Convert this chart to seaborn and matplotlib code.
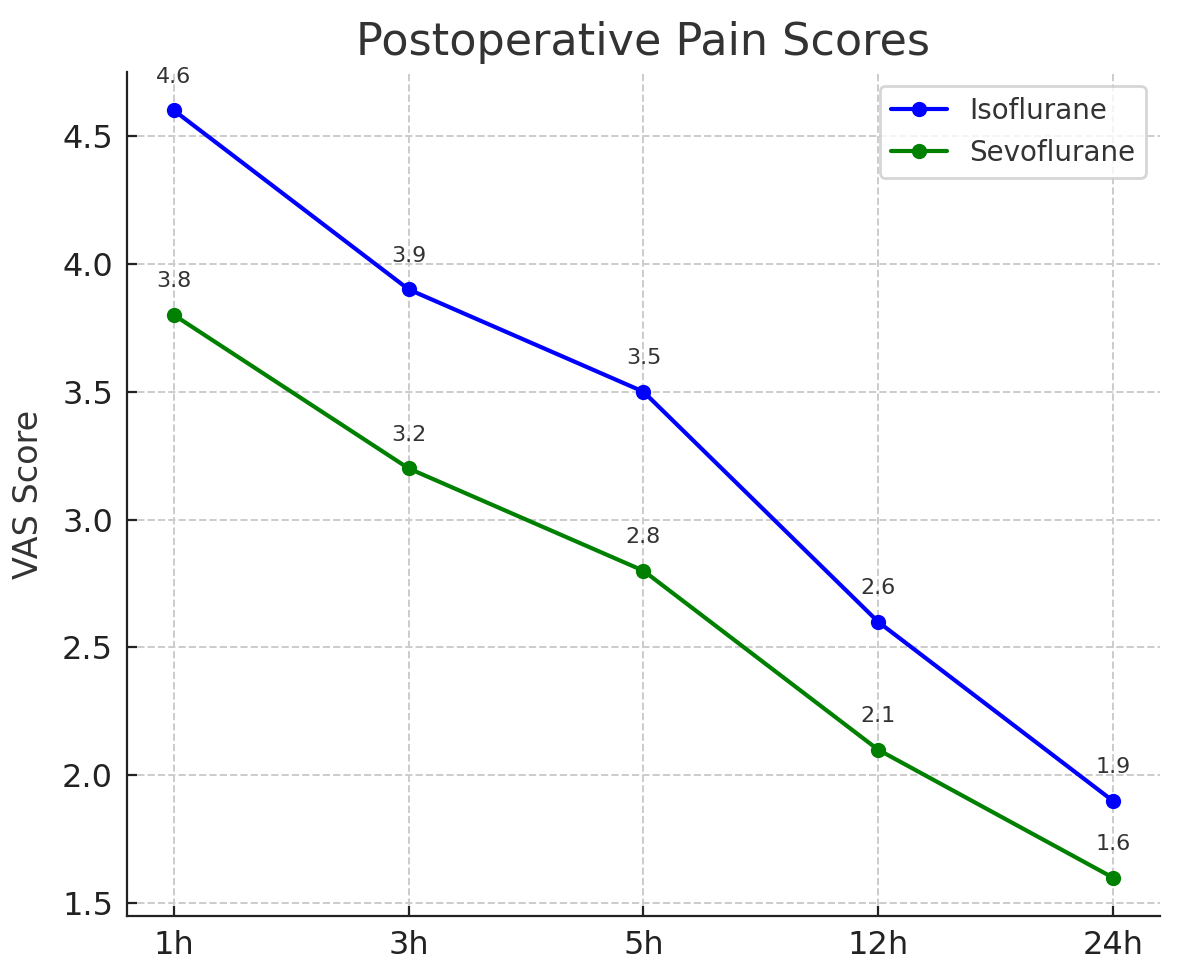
import matplotlib
matplotlib.use("Agg")
import matplotlib.pyplot as plt
import seaborn as sns
import pandas as pd

times = ["1h", "3h", "5h", "12h", "24h"]
isoflurane = [4.6, 3.9, 3.5, 2.6, 1.9]
sevoflurane = [3.8, 3.2, 2.8, 2.1, 1.6]

sns.set_style("ticks")
plt.rcParams['font.family'] = ['DejaVu Sans']

df = pd.DataFrame({
    "Time": times * 2,
    "Score": isoflurane + sevoflurane,
    "Agent": ["Isoflurane"] * len(times) + ["Sevoflurane"] * len(times),
})

fig = plt.figure(figsize=(5.9, 4.9), dpi=200)
ax = fig.add_axes([0.1076, 0.0653, 0.8754, 0.8612])

palette = {"Isoflurane": "blue", "Sevoflurane": "green"}
for agent in ["Isoflurane", "Sevoflurane"]:
    sub = df[df["Agent"] == agent]
    sns.lineplot(data=sub, x="Time", y="Score", ax=ax, color=palette[agent],
                 marker="o", markersize=5.5, markeredgewidth=0, linewidth=1.5,
                 label=agent, sort=False)
    for i, (t, v) in enumerate(zip(sub["Time"], sub["Score"])):
        ax.annotate(f"{v}", (i, v), textcoords="offset points", xytext=(0, 8.5),
                    ha="center", va="bottom", fontsize=8, color="#333333")

ax.set_title("Postoperative Pain Scores", fontsize=16, color="#333333")
ax.set_xlabel("")
ax.set_ylabel("VAS Score", fontsize=12, color="#333333", labelpad=6)
ax.tick_params(labelsize=11.5, colors="#222222", direction="in", pad=5)
ax.grid(True, linestyle="--", color="#cccccc", linewidth=0.7)
ax.set_yticks([1.5, 2.0, 2.5, 3.0, 3.5, 4.0, 4.5])
sns.despine(ax=ax)
for s in ["left", "bottom"]:
    ax.spines[s].set_color("#222222")
leg = ax.legend(loc="upper right", fontsize=10, frameon=True)
for t in leg.get_texts():
    t.set_color("#333333")

fig.savefig("out.png", dpi=200)
